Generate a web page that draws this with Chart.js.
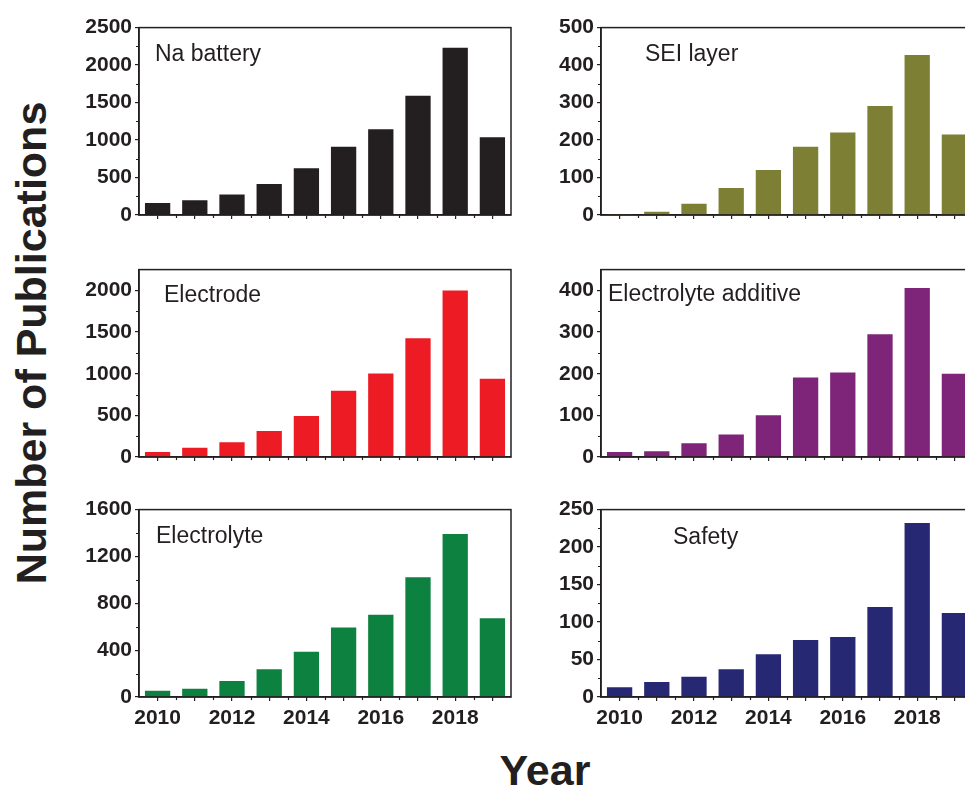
<!DOCTYPE html>
<html>
<head>
<meta charset="utf-8">
<script src="https://cdn.jsdelivr.net/npm/chart.js@4"></script>
<style>
  html, body { margin: 0; padding: 0; background: #fff; overflow: hidden; }
  body { width: 965px; height: 787px; position: relative; }
  canvas { position: absolute; }
  .axis-title {
    position: absolute;
    font-family: "Liberation Sans", Arial, sans-serif;
    font-weight: bold;
    color: #231f20;
    white-space: nowrap;
  }
  #ytitle { left: 31px; top: 343px; font-size: 43px; transform: translate(-50%, -50%) rotate(-90deg); }
  #xtitle { left: 545px; top: 746px; font-size: 43px; transform: translateX(-50%); }
</style>
</head>
<body>
<div id="ytitle" class="axis-title">Number of Publications</div>
<div id="xtitle" class="axis-title">Year</div>

<script>
const years = ['2010', '2011', '2012', '2013', '2014', '2015', '2016', '2017', '2018', '2019']

const naBattery = [161, 196, 275, 415, 624, 912, 1143, 1592, 2230, 1038]
const seiLayer = [3, 9, 30, 72, 120, 182, 220, 291, 427, 215]
const electrode = [59, 110, 177, 311, 492, 795, 1004, 1425, 2000, 941]
const electrolyteAdditive = [12, 14, 33, 54, 100, 191, 203, 295, 406, 200]
const electrolyte = [53, 70, 137, 237, 387, 594, 702, 1023, 1391, 672]
const safety = [13, 20, 27, 37, 57, 76, 80, 120, 232, 112]

const ink = '#231f20'
const font = '"Liberation Sans", Arial, sans-serif'

// plot-area geometry (pixels)
const plotLeft = [139, 601]
const rowTop = [24, 266, 506]
const plotW = 372
const plotH = 191
const yAxisW = 80
const xAxisH = 30
const padTop = 12
const padRight = 4

const panels = [
  { label: 'Na battery', data: naBattery, color: '#231f20', max: 2500, major: 500, minor: 250, col: 0, row: 0, dx: 16, dy: 33 },
  { label: 'SEI layer', data: seiLayer, color: '#7c7f34', max: 500, major: 100, minor: 50, col: 1, row: 0, dx: 44, dy: 33 },
  { label: 'Electrode', data: electrode, color: '#ed1c24', max: 2250, major: 500, minor: 250, col: 0, row: 1, dx: 25, dy: 32 },
  { label: 'Electrolyte additive', data: electrolyteAdditive, color: '#7e2479', max: 450, major: 100, minor: 50, col: 1, row: 1, dx: 7, dy: 31 },
  { label: 'Electrolyte', data: electrolyte, color: '#0c8140', max: 1600, major: 400, minor: 200, col: 0, row: 2, dx: 17, dy: 33 },
  { label: 'Safety', data: safety, color: '#262873', max: 250, major: 50, minor: 25, col: 1, row: 2, dx: 72, dy: 34 }
]

const framePlugin = {
  id: 'frame',
  afterDraw(chart, args, opts) {
    const { ctx, chartArea: a, scales: { x, y } } = chart
    ctx.save()
    ctx.strokeStyle = ink
    ctx.lineWidth = 1.5
    ctx.strokeRect(a.left, a.top, a.right - a.left, a.bottom - a.top)

    ctx.lineWidth = 1.2
    ctx.beginPath()
    // minor y ticks
    for (let v = opts.minor; v < y.max; v += opts.minor) {
      if (v % opts.major === 0) continue
      const py = Math.round(y.getPixelForValue(v)) + 0.5
      ctx.moveTo(a.left - 3, py)
      ctx.lineTo(a.left, py)
    }
    // minor x ticks between bars
    for (let i = 0; i < years.length - 1; i++) {
      const px = Math.round((x.getPixelForValue(i) + x.getPixelForValue(i + 1)) / 2) + 0.5
      ctx.moveTo(px, a.bottom)
      ctx.lineTo(px, a.bottom + 3)
    }
    ctx.stroke()

    ctx.font = '23px ' + font
    ctx.fillStyle = ink
    ctx.textBaseline = 'alphabetic'
    ctx.fillText(opts.label, a.left + opts.dx, a.top + opts.dy)
    ctx.restore()
  }
}

panels.forEach(p => {
  const canvas = document.createElement('canvas')
  canvas.width = yAxisW + plotW + padRight
  canvas.height = padTop + plotH + xAxisH
  canvas.style.left = (plotLeft[p.col] - yAxisW) + 'px'
  canvas.style.top = (rowTop[p.row] - padTop) + 'px'
  document.body.appendChild(canvas)

  const showX = p.row === 2

  new Chart(canvas, {
    type: 'bar',
    data: {
      labels: years,
      datasets: [
        {
          label: p.label,
          data: p.data,
          backgroundColor: p.color,
          borderWidth: 0,
          barPercentage: 0.68,
          categoryPercentage: 1
        }
      ]
    },
    options: {
      responsive: false,
      animation: false,
      devicePixelRatio: 1,
      layout: {
        padding: { top: padTop, right: padRight, left: 0, bottom: 0 }
      },
      plugins: {
        legend: { display: false },
        tooltip: { enabled: false },
        frame: { label: p.label, dx: p.dx, dy: p.dy, major: p.major, minor: p.minor }
      },
      scales: {
        x: {
          type: 'category',
          offset: true,
          afterFit: s => { s.height = xAxisH },
          grid: {
            offset: false,
            drawOnChartArea: false,
            drawTicks: true,
            tickLength: 4,
            color: ink,
            lineWidth: 1.2
          },
          border: { display: true, color: ink, width: 1.5 },
          ticks: {
            autoSkip: false,
            maxRotation: 0,
            padding: 5,
            color: ink,
            font: { family: font, size: 21, weight: 'bold' },
            callback: function (val, i) {
              return showX && i % 2 === 0 ? this.getLabelForValue(val) : ''
            }
          }
        },
        y: {
          min: 0,
          max: p.max,
          afterFit: s => { s.width = yAxisW },
          afterBuildTicks: s => {
            const ticks = []
            for (let v = 0; v <= p.max; v += p.major) ticks.push({ value: v })
            s.ticks = ticks
          },
          grid: {
            drawOnChartArea: false,
            drawTicks: true,
            tickLength: 4,
            color: ink,
            lineWidth: 1.2
          },
          border: { display: true, color: ink, width: 1.5 },
          ticks: {
            autoSkip: false,
            padding: 3,
            color: ink,
            font: { family: font, size: 21, weight: 'bold' },
            callback: v => String(v)
          }
        }
      }
    },
    plugins: [framePlugin]
  })
})
</script>
</body>
</html>
